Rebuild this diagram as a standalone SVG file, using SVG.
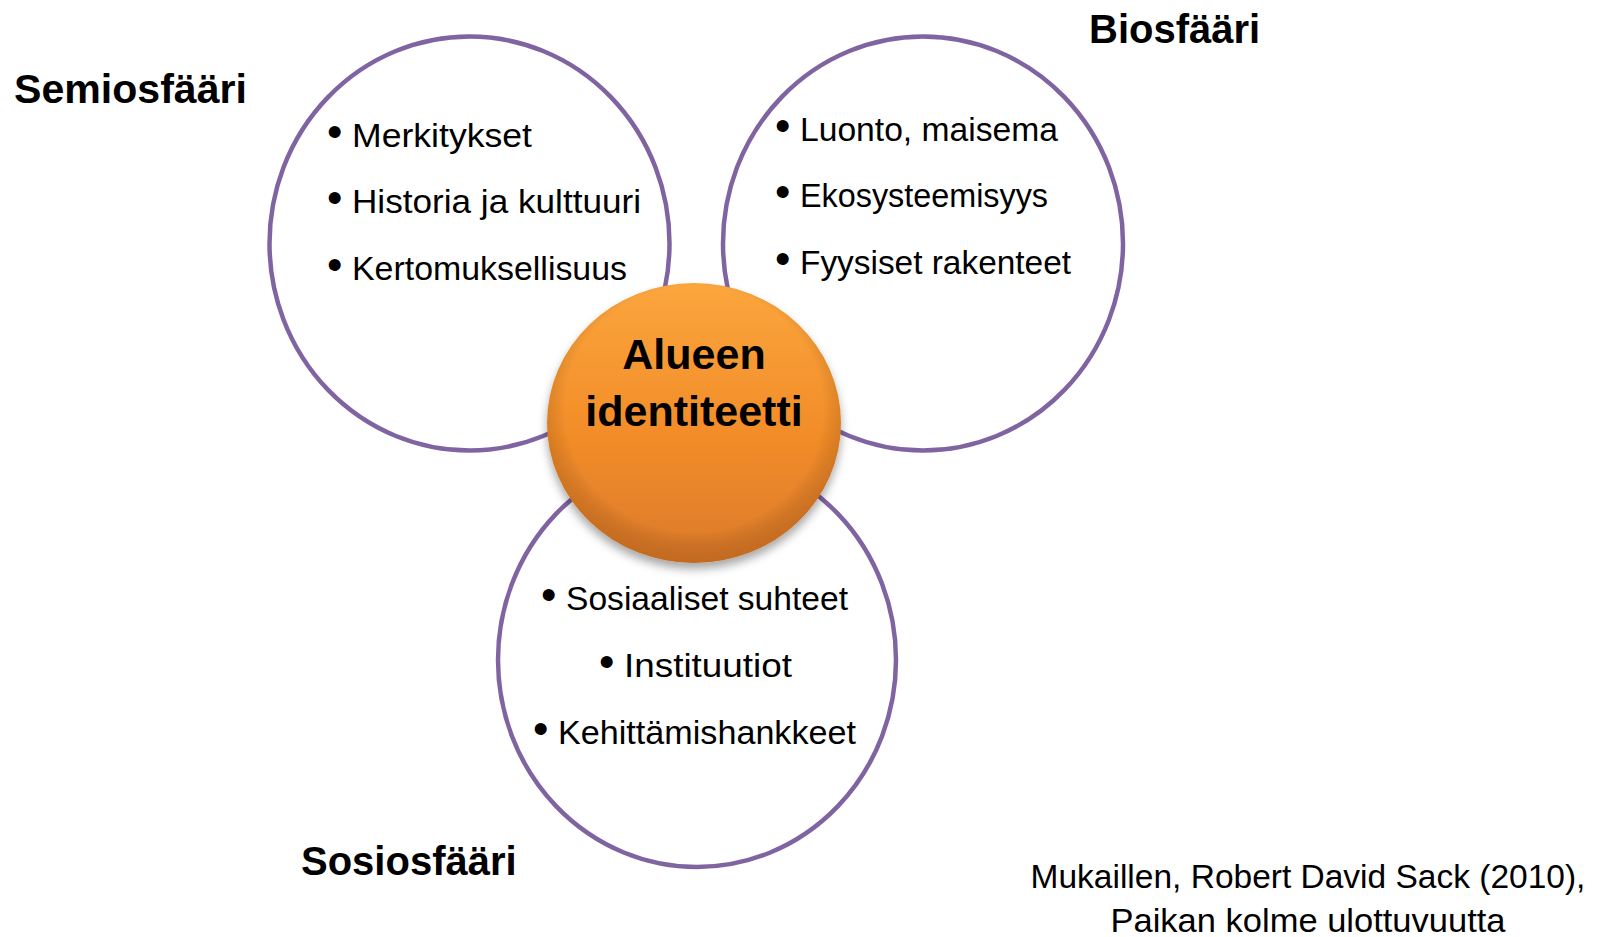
<svg xmlns="http://www.w3.org/2000/svg" width="1606" height="937" viewBox="0 0 1606 937">
<style>
.ring{fill:#fff;stroke:#8064A2;stroke-width:4.5}
.lbl{font-family:"Liberation Sans",Arial,sans-serif;font-weight:bold;font-size:40px;fill:#000}
.itm{font-family:"Liberation Sans",Arial,sans-serif;font-size:34px;fill:#000}
.bul{font-family:"Liberation Sans",Arial,sans-serif;font-size:44px;fill:#000}
.ctr{font-family:"Liberation Sans",Arial,sans-serif;font-weight:bold;font-size:43px;fill:#000;text-anchor:middle}
.cit{font-family:"Liberation Sans",Arial,sans-serif;font-size:33.5px;fill:#000;text-anchor:middle}
</style>
<defs>
<linearGradient id="og" x1="0" y1="0" x2="0" y2="1">
<stop offset="0" stop-color="#FBA63D"/>
<stop offset="0.55" stop-color="#F28C28"/>
<stop offset="1" stop-color="#DB7A2C"/>
</linearGradient>
<radialGradient id="edge" cx="0.5" cy="0.45" r="0.55">
<stop offset="0.8" stop-color="#000" stop-opacity="0"/>
<stop offset="1" stop-color="#7a3a00" stop-opacity="0.25"/>
</radialGradient>
<filter id="sh" x="-20%" y="-20%" width="140%" height="150%">
<feDropShadow dx="0" dy="6" stdDeviation="5" flood-color="#000" flood-opacity="0.35"/>
</filter>
</defs>
<rect width="1606" height="937" fill="#fff"/>
<g id="connectors"></g>
<g id="semiosfaari">
<ellipse class="ring" cx="469.5" cy="243.5" rx="200" ry="207"/>
<text class="bul" x="327" y="147">•</text><text class="itm" x="352" y="147" textLength="180" lengthAdjust="spacingAndGlyphs">Merkitykset</text>
<text class="bul" x="327" y="213">•</text><text class="itm" x="352" y="213" textLength="289" lengthAdjust="spacingAndGlyphs">Historia ja kulttuuri</text>
<text class="bul" x="327" y="280">•</text><text class="itm" x="352" y="280" textLength="275" lengthAdjust="spacingAndGlyphs">Kertomuksellisuus</text>
</g>
<g id="biosfaari">
<ellipse class="ring" cx="923" cy="243.5" rx="200" ry="207"/>
<text class="bul" x="775" y="141">•</text><text class="itm" x="800" y="141" textLength="258" lengthAdjust="spacingAndGlyphs">Luonto, maisema</text>
<text class="bul" x="775" y="207">•</text><text class="itm" x="800" y="207" textLength="248" lengthAdjust="spacingAndGlyphs">Ekosysteemisyys</text>
<text class="bul" x="775" y="274">•</text><text class="itm" x="800" y="274" textLength="271" lengthAdjust="spacingAndGlyphs">Fyysiset rakenteet</text>
</g>
<g id="sosiosfaari">
<ellipse class="ring" cx="697" cy="660" rx="199" ry="207"/>
<text class="bul" x="541" y="610">•</text><text class="itm" x="566" y="610" textLength="282" lengthAdjust="spacingAndGlyphs">Sosiaaliset suhteet</text>
<text class="bul" x="599" y="677">•</text><text class="itm" x="624" y="677" textLength="168" lengthAdjust="spacingAndGlyphs">Instituutiot</text>
<text class="bul" x="533" y="744">•</text><text class="itm" x="558" y="744" textLength="298" lengthAdjust="spacingAndGlyphs">Kehittämishankkeet</text>
</g>
<g id="alueen-identiteetti">
<ellipse cx="694" cy="423" rx="147" ry="140" fill="url(#og)" filter="url(#sh)"/>
<ellipse cx="694" cy="423" rx="147" ry="140" fill="url(#edge)"/>
<text class="ctr" x="694" y="369">Alueen</text>
<text class="ctr" x="694" y="426">identiteetti</text>
</g>
<g id="labels">
<text class="lbl" x="14" y="103" textLength="233" lengthAdjust="spacingAndGlyphs">Semiosfääri</text>
<text class="lbl" x="1089" y="43">Biosfääri</text>
<text class="lbl" x="301" y="875">Sosiosfääri</text>
</g>
<g id="citation">
<text class="cit" x="1308" y="888">Mukaillen, Robert David Sack (2010),</text>
<text class="cit" x="1308" y="932" textLength="395" lengthAdjust="spacingAndGlyphs">Paikan kolme ulottuvuutta</text>
</g>
</svg>
